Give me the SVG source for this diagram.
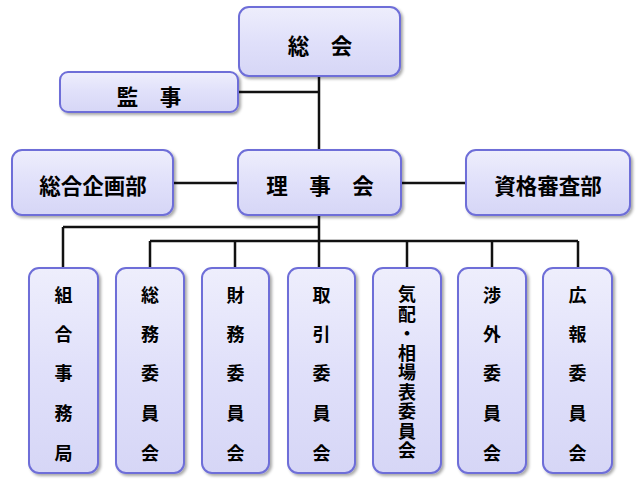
<svg xmlns="http://www.w3.org/2000/svg" width="640" height="480" viewBox="0 0 640 480">
<defs>
<linearGradient id="g" x1="0" y1="0" x2="0" y2="1">
<stop offset="0" stop-color="#eeeefc"/>
<stop offset="0.5" stop-color="#e0e0fa"/>
<stop offset="1" stop-color="#d6d6f6"/>
</linearGradient>
<filter id="sh" x="-10%" y="-10%" width="130%" height="130%">
<feGaussianBlur in="SourceAlpha" stdDeviation="1.5"/>
<feOffset dx="2" dy="2" result="b"/>
<feComponentTransfer><feFuncA type="linear" slope="0.35"/></feComponentTransfer>
<feMerge><feMergeNode/><feMergeNode in="SourceGraphic"/></feMerge>
</filter>
</defs>
<style>
.box{fill:url(#g);stroke:#6e6ed8;stroke-width:2;filter:url(#sh)}
.t{font-family:"Noto Sans CJK JP","Noto Sans CJK SC",sans-serif;font-weight:bold;font-size:18px;fill:#000;text-anchor:middle;dominant-baseline:central}
.h{font-size:21.5px}
.v{font-family:"Noto Sans CJK JP","Noto Sans CJK SC",sans-serif;font-weight:bold;font-size:18px;fill:#000;text-anchor:middle;writing-mode:vertical-rl;letter-spacing:1.5px}
.ln{stroke:#111;stroke-width:2.5;fill:none}
</style>
<rect width="640" height="480" fill="#fff"/>
<g id="connectors">
<path class="ln" d="M319 76V268M238 92H319M173 183H238M401 183H466M63 227H319M63 227V268M150 241H578M150 241V268M235 241V268M407 241V268M492 241V268M578 241V268"/>
</g>
<g id="sokai"><rect class="box" x="239" y="7" width="161" height="69" rx="10"/><text class="t h" x="320" y="44">総　会</text></g>
<g id="kanji"><rect class="box" x="60" y="72" width="178" height="40" rx="8"/><text class="t h" x="149" y="95">監　事</text></g>
<g id="sogokikakubu"><rect class="box" x="12" y="150" width="161" height="65" rx="10"/><text class="t h" x="93" y="184">総合企画部</text></g>
<g id="rijikai"><rect class="box" x="238" y="150" width="163" height="65" rx="10"/><text class="t h" x="320" y="184">理　事　会</text></g>
<g id="shikakushinsabu"><rect class="box" x="466" y="150" width="164" height="65" rx="10"/><text class="t h" x="548" y="184">資格審査部</text></g>
<g id="kumiaijimukyoku"><rect class="box" x="29" y="268" width="69" height="205" rx="10"/>
<text class="t" x="63.5" y="294">組</text><text class="t" x="63.5" y="333">合</text><text class="t" x="63.5" y="372">事</text><text class="t" x="63.5" y="412">務</text><text class="t" x="63.5" y="452">局</text></g>
<g id="somu"><rect class="box" x="116" y="268" width="68" height="205" rx="10"/>
<text class="t" x="150" y="294">総</text><text class="t" x="150" y="333">務</text><text class="t" x="150" y="372">委</text><text class="t" x="150" y="412">員</text><text class="t" x="150" y="452">会</text></g>
<g id="zaimu"><rect class="box" x="202" y="268" width="67" height="205" rx="10"/>
<text class="t" x="235.5" y="294">財</text><text class="t" x="235.5" y="333">務</text><text class="t" x="235.5" y="372">委</text><text class="t" x="235.5" y="412">員</text><text class="t" x="235.5" y="452">会</text></g>
<g id="torihiki"><rect class="box" x="288" y="268" width="67" height="205" rx="10"/>
<text class="t" x="321.5" y="294">取</text><text class="t" x="321.5" y="333">引</text><text class="t" x="321.5" y="372">委</text><text class="t" x="321.5" y="412">員</text><text class="t" x="321.5" y="452">会</text></g>
<g id="kehai"><rect class="box" x="373" y="268" width="68" height="205" rx="10"/>
<text class="v" x="407" y="373">気配・相場表委員会</text></g>
<g id="shogai"><rect class="box" x="458" y="268" width="68" height="205" rx="10"/>
<text class="t" x="492" y="294">渉</text><text class="t" x="492" y="333">外</text><text class="t" x="492" y="372">委</text><text class="t" x="492" y="412">員</text><text class="t" x="492" y="452">会</text></g>
<g id="koho"><rect class="box" x="543" y="268" width="69" height="205" rx="10"/>
<text class="t" x="577.5" y="294">広</text><text class="t" x="577.5" y="333">報</text><text class="t" x="577.5" y="372">委</text><text class="t" x="577.5" y="412">員</text><text class="t" x="577.5" y="452">会</text></g>
</svg>
